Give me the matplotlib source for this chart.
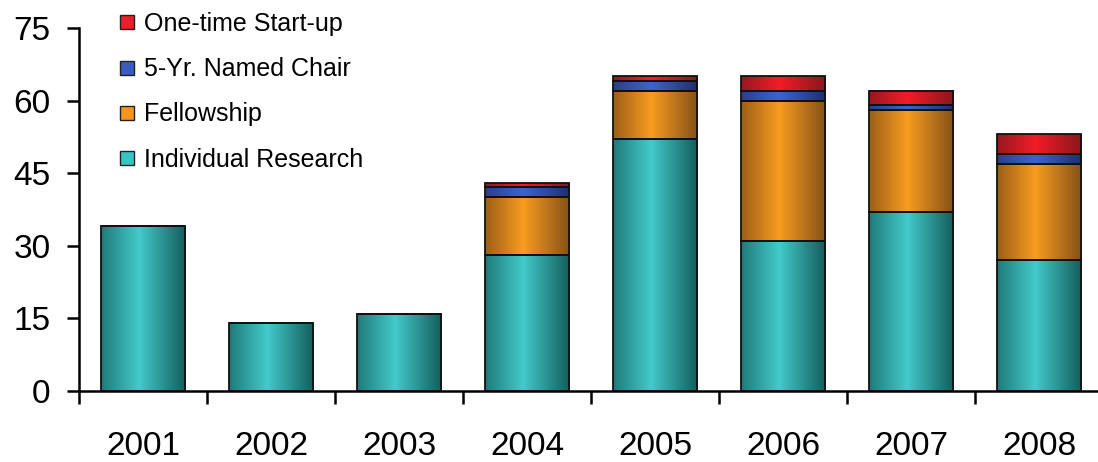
import numpy as np
import matplotlib
matplotlib.use("Agg")
import matplotlib.pyplot as plt
from matplotlib.colors import LinearSegmentedColormap
from matplotlib.lines import Line2D

plt.rcParams['font.family'] = ['Liberation Sans', 'DejaVu Sans']

years = ["2001", "2002", "2003", "2004", "2005", "2006", "2007", "2008"]
individual_research = [34, 14, 16, 28, 52, 31, 37, 27]
fellowship = [0, 0, 0, 12, 10, 29, 21, 20]
named_chair = [0, 0, 0, 2.2, 2, 2, 1, 2]
startup = [0, 0, 0, 0.8, 1, 3, 3, 4]

series_names = ["Individual Research", "Fellowship", "5-Yr. Named Chair", "One-time Start-up"]
series_values = [individual_research, fellowship, named_chair, startup]
# (left edge, centre, right edge) shades for the cylinder look
shades = [
    ("#1f7a7a", "#43caca", "#155c5c"),
    ("#9c5e18", "#f99c20", "#85501a"),
    ("#2a3f8a", "#3f63cc", "#1f2f6e"),
    ("#951820", "#f21c28", "#8a161c"),
]
legend_colors = ["#38c4c4", "#f7941d", "#3a5cc0", "#e8202a"]

fig = plt.figure(figsize=(10.98, 4.62), dpi=100)
ax = fig.add_axes([79 / 1098, 71 / 462, 1024 / 1098, 363 / 462])

x = np.arange(len(years))
bottom = np.zeros(len(years))
for vals, (c0, c1, c2) in zip(series_values, shades):
    vals = np.array(vals, dtype=float)
    bars = ax.bar(x, vals, width=0.66, bottom=bottom, facecolor="none",
                  edgecolor="#111111", linewidth=1.3, zorder=3)
    cmap = LinearSegmentedColormap.from_list("g", [(0, c0), (0.45, c1), (1, c2)])
    grad = np.linspace(0, 1, 256).reshape(1, -1)
    for p, v in zip(bars.patches, vals):
        if v <= 0:
            continue
        x0, y0 = p.get_x(), p.get_y()
        ax.imshow(grad, cmap=cmap, aspect="auto", zorder=2,
                  extent=[x0, x0 + p.get_width(), y0, y0 + p.get_height()])
    bottom += vals

ax.set_xlim(-0.5, 7.5)
ax.set_ylim(0, 75)
ax.set_yticks([0, 15, 30, 45, 60, 75])
ax.set_xticks(np.arange(-0.5, 8, 1))
ax.set_xticklabels([])
ax.set_xticks(x, minor=True)
ax.set_xticklabels(years, minor=True)

for s in ["top", "right"]:
    ax.spines[s].set_visible(False)
for s in ["left", "bottom"]:
    ax.spines[s].set_linewidth(1.8)

ax.tick_params(axis="y", direction="out", length=8.5, width=1.8, labelsize=24, pad=12)
ax.tick_params(axis="x", which="major", direction="out", length=9, width=1.8)
ax.tick_params(axis="x", which="minor", length=0, labelsize=24, pad=29)

handles = [Line2D([], [], marker="s", ls="", ms=9.5, mfc=c, mec="#222222", mew=1)
           for c in legend_colors]
leg = ax.legend(handles[::-1], series_names[::-1], loc="upper left",
                bbox_to_anchor=(112 / 1098, 1 - 7 / 462), bbox_transform=fig.transFigure,
                frameon=False, fontsize=18, labelspacing=0.85, handlelength=0.8,
                handletextpad=0.3, borderaxespad=0, borderpad=0.2)

fig.savefig("out.png", dpi=100)
